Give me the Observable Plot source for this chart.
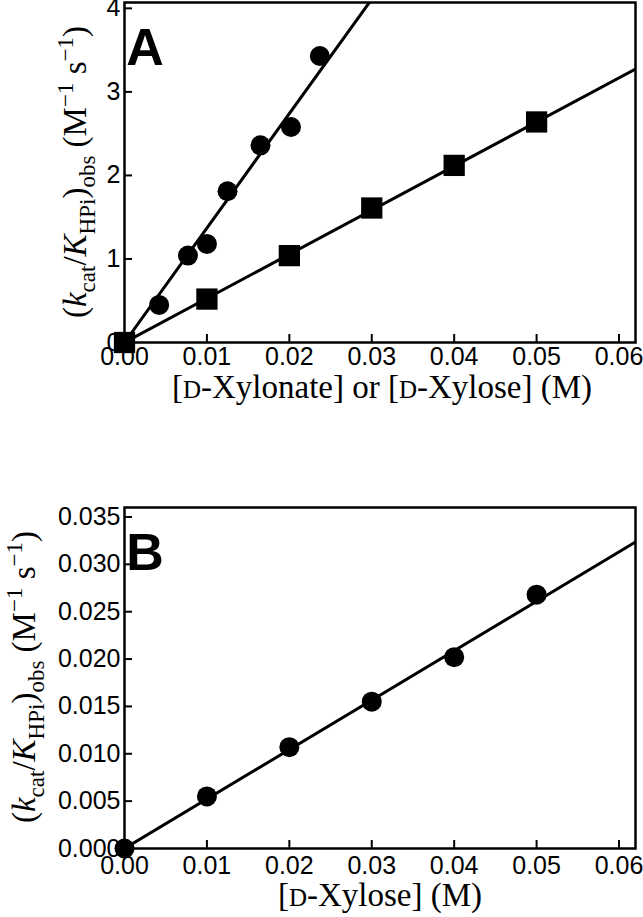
<!DOCTYPE html>
<html><head><meta charset="utf-8">
<script src="https://cdn.jsdelivr.net/npm/d3@7"></script>
<script src="https://cdn.jsdelivr.net/npm/@observablehq/plot@0.6"></script>
<style>
body{margin:0;background:#fff;}
#chart svg{display:block;}
</style></head><body><div id="chart"></div>
<script>
// ---- Panel A data ----
const xylonateConc = [0, 0.0042, 0.0077, 0.0100, 0.0125, 0.0165, 0.0202, 0.0237];
const xylonateRate = [0, 0.45, 1.04, 1.18, 1.81, 2.36, 2.58, 3.43];
const xyloseConcA = [0, 0.01, 0.02, 0.03, 0.04, 0.05];
const xyloseRateA = [0, 0.52, 1.04, 1.61, 2.12, 2.64];
const xylonateSlope = 137;
const xyloseSlopeA = 52.8;
// ---- Panel B data ----
const xyloseConcB = [0, 0.01, 0.02, 0.03, 0.04, 0.05];
const xyloseRateB = [0, 0.0055, 0.0107, 0.0155, 0.0202, 0.0268];
const xyloseSlopeB = 0.522;
// ---- ticks ----
const xTicks = [0, 0.01, 0.02, 0.03, 0.04, 0.05, 0.06];
const yTicksA = [0, 1, 2, 3, 4];
const yTicksB = [0, 0.005, 0.010, 0.015, 0.020, 0.025, 0.030, 0.035];

const xDomain = [0, 0.062];
const pts = (xs, ys) => xs.map((x, i) => ({x, y: ys[i]}));
const fit = (slope) => [{x: xDomain[0], y: xDomain[0] * slope}, {x: xDomain[1], y: xDomain[1] * slope}];

const W = 643;
const sansStyle = {fontFamily: "'Liberation Sans', Arial, Helvetica, sans-serif", fontSize: "25px", color: "#000", background: "#fff", overflow: "visible"};

const plotA = Plot.plot({
  width: W, height: 455,
  marginTop: 2, marginBottom: 113, marginLeft: 124, marginRight: 8,
  style: sansStyle,
  x: {domain: xDomain},
  y: {domain: [0, 4.07]},
  marks: [
    Plot.axisX({ticks: xTicks, tickSize: -8, tickPadding: 13, tickFormat: d3.format(".2f"), strokeWidth: 2, label: null}),
    Plot.axisY({ticks: yTicksA, tickSize: -8, tickPadding: 12, tickFormat: d3.format("d"), strokeWidth: 2, label: null}),
    Plot.line(fit(xylonateSlope), {x: "x", y: "y", stroke: "black", strokeWidth: 3, clip: "frame"}),
    Plot.line(fit(xyloseSlopeA), {x: "x", y: "y", stroke: "black", strokeWidth: 3, clip: "frame"}),
    Plot.dot(pts(xylonateConc, xylonateRate), {x: "x", y: "y", r: 10, fill: "black"}),
    Plot.dot(pts(xyloseConcA, xyloseRateA), {x: "x", y: "y", symbol: "square", r: 12, fill: "black"}),
    Plot.frame({stroke: "black", strokeWidth: 2.5})
  ]
});

const plotB = Plot.plot({
  width: W, height: 462,
  marginTop: 52, marginBottom: 69, marginLeft: 124, marginRight: 8,
  style: sansStyle,
  x: {domain: xDomain},
  y: {domain: [0, 0.036]},
  marks: [
    Plot.axisX({ticks: xTicks, tickSize: -8, tickPadding: 16, tickFormat: d3.format(".2f"), strokeWidth: 2, label: null}),
    Plot.axisY({ticks: yTicksB, tickSize: -8, tickPadding: 12, tickFormat: d3.format(".3f"), strokeWidth: 2, label: null}),
    Plot.line(fit(xyloseSlopeB), {x: "x", y: "y", stroke: "black", strokeWidth: 3, clip: "frame"}),
    Plot.dot(pts(xyloseConcB, xyloseRateB), {x: "x", y: "y", r: 10, fill: "black"}),
    Plot.frame({stroke: "black", strokeWidth: 2.5})
  ]
});

const serif = "'Liberation Serif', 'Times New Roman', Times, serif";

function yTitle(svg, x, y) {
  const t = d3.select(svg).append("text")
    .attr("transform", `translate(${x},${y}) rotate(-90)`)
    .attr("text-anchor", "middle")
    .attr("fill", "black")
    .style("font-family", serif).style("font-size", "33px");
  const sub = 9, sup = 13, small = "23px";
  t.append("tspan").text("(");
  t.append("tspan").attr("font-style", "italic").text("k");
  t.append("tspan").attr("font-size", small).attr("dy", sub).text("cat");
  t.append("tspan").attr("dy", -sub).text("/");
  t.append("tspan").attr("font-style", "italic").text("K");
  t.append("tspan").attr("font-size", small).attr("dy", sub).text("HPi");
  t.append("tspan").attr("dy", -sub).text(")");
  t.append("tspan").attr("font-size", small).attr("dy", sub).text("obs");
  t.append("tspan").attr("dy", -sub).text(" (M");
  t.append("tspan").attr("font-size", small).attr("dy", -sup).text("\u22121");
  t.append("tspan").attr("dy", sup).text(" s");
  t.append("tspan").attr("font-size", small).attr("dy", -sup).text("\u22121");
  t.append("tspan").attr("dy", sup).text(")");
}

function xTitle(svg, x, y, parts) {
  const t = d3.select(svg).append("text")
    .attr("x", x).attr("y", y)
    .attr("text-anchor", "middle")
    .attr("fill", "black")
    .style("font-family", serif).style("font-size", "33px");
  parts.forEach(([s, small]) => {
    const sp = t.append("tspan").text(s);
    if (small) sp.attr("font-size", "25px");
  });
}

function panelLabel(svg, x, y, s) {
  d3.select(svg).append("text")
    .attr("x", x).attr("y", y)
    .attr("fill", "black")
    .style("font-family", "'Liberation Sans', Arial, sans-serif")
    .style("font-weight", "bold").style("font-size", "52px")
    .text(s);
}

yTitle(plotA, 86, 172);
xTitle(plotA, 382, 398, [["[", 0], ["D", 1], ["-Xylonate] or [", 0], ["D", 1], ["-Xylose] (M)", 0]]);
panelLabel(plotA, 145, 65, "A");

yTitle(plotB, 35, 222);
xTitle(plotB, 380, 451, [["[", 0], ["D", 1], ["-Xylose] (M)", 0]]);
panelLabel(plotB, 145, 115, "B");

document.getElementById("chart").append(plotA, plotB);
</script>
</body></html>
